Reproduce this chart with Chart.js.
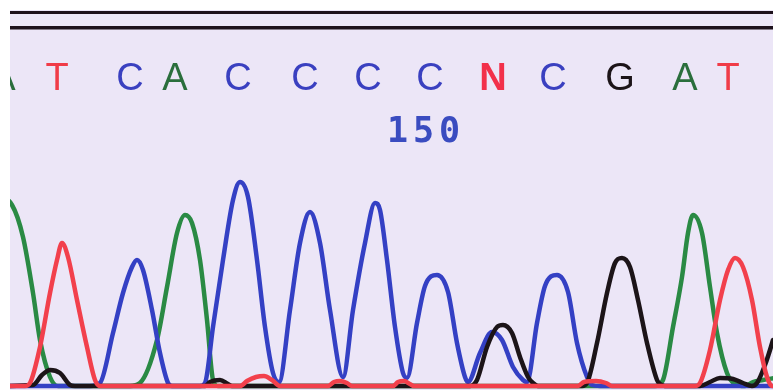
<!DOCTYPE html>
<html>
<head>
<meta charset="utf-8">
<script src="https://cdn.jsdelivr.net/npm/chart.js@4.4.1/dist/chart.umd.min.js"></script>
<style>
    html, body { margin: 0; padding: 0; background: #ffffff; }
    canvas { display: block; }
</style>
</head>
<body>
<canvas id="myChart" width="773" height="390"></canvas>
<script>
// base calls along the top
const bases = ['A', 'T', 'C', 'A', 'C', 'C', 'C', 'C', 'N', 'C', 'G', 'A', 'T'];
const basePos = [-3.5, 23.5, 60, 82.5, 114, 147.5, 179, 210, 241.5, 271.5, 305, 337.5, 359];
const baseColors = {A: '#2a6e3c', C: '#3a40c0', G: '#1c1418', T: '#f03c48', N: '#f2304a'};
const numberLabel = '150';
const numberPos = 208;

// traces: [scan point, signal]
const traceA = [[-7.5, 955], [1, 905], [6.5, 745], [11.5, 465], [15, 230], [20, 45], [24, 0],
    [60, 0], [65, 15], [73.5, 230], [78.5, 495], [83.5, 765], [87.5, 855], [91, 815], [95, 630], [98.5, 330], [101.5, 30], [104, 0],
    [322.5, 0], [326.5, 30], [331.5, 295], [336, 545], [339, 765], [341.5, 855], [346, 765], [350, 495], [353.5, 265], [358.5, 65], [362.5, 10], [367.5, 0],
    [371.5, 20], [376.5, 30], [382.5, 40]];
const traceC = [[-5, 0], [40, 0], [45, 15], [51.5, 265], [56.5, 465], [61, 595], [63.5, 630], [66.5, 580], [71, 380], [75, 165], [79, 15], [81, 0],
    [95, 0], [97.5, 15], [101.5, 295], [106.5, 630], [111.5, 930], [115, 1020], [119, 945], [123.5, 630], [127.5, 295], [131.5, 65], [134.5, 20],
    [140, 380], [145, 715], [150, 870], [155, 715], [160, 380], [166.5, 45],
    [171.5, 380], [177.5, 715], [182.5, 915], [185, 880], [188.5, 630], [192.5, 295], [196.5, 65], [198.5, 40],
    [203.5, 315], [207.5, 500], [213.5, 555], [219, 470], [223.5, 215], [227.5, 45], [229, 20],
    [235, 165], [241, 270], [246, 230], [251.5, 95], [256.5, 30], [258.5, 20],
    [263.5, 315], [267.5, 500], [273.5, 555], [279, 470], [283.5, 215], [288.5, 45], [291, 5], [295, 0], [382.5, 0]];
const traceG = [[-5, 0], [11.5, 5], [16, 55], [20, 80], [25, 65], [30, 5], [32.5, 0],
    [97.5, 0], [100, 20], [105, 30], [109, 10], [111, 0],
    [230, 0], [233.5, 30], [238.5, 195], [243.5, 295], [246.5, 305], [251, 265], [255, 145], [259, 45], [261.5, 15], [264, 0],
    [286, 0], [288.5, 15], [293.5, 215], [298.5, 465], [302.5, 615], [306, 640], [310, 595], [314, 430], [318.5, 215], [323.5, 30], [325, 10], [327.5, 0],
    [345, 0], [350, 20], [355, 40], [361.5, 35], [366.5, 15], [371, 0],
    [373.5, 15], [377.5, 105], [381.5, 230], [385.5, 380]];
const traceT = [[-5, 0], [7.5, 0], [10, 15], [15, 195], [20, 465], [23.5, 630], [26, 715], [29, 645], [33.5, 430], [38.5, 195], [42.5, 30], [45, 0],
    [115, 0], [118.5, 25], [123, 45], [127, 50], [131, 30], [135, 0],
    [159, 0], [162, 20], [165, 25], [168.5, 15], [171, 0],
    [191.5, 0], [194, 20], [197, 25], [200, 10], [202, 0],
    [284, 0], [287, 20], [293, 25], [298, 15], [301, 0],
    [342.5, 0], [345, 15], [350, 180], [355, 430], [359, 580], [362.5, 640], [366.5, 595], [371, 430], [375, 195], [378.5, 45], [381, 0], [385, 0]];

function pts(arr) {
    return arr.map(function (p) { return {x: p[0], y: p[1]}; });
}

const paper = {
    id: 'paper',
    beforeDraw: function (chart) {
        const c = chart.ctx;
        const a = chart.chartArea;
        c.save();
        c.fillStyle = '#ece6f7';
        c.fillRect(a.left, a.top, a.right - a.left, a.bottom - a.top);
        c.fillStyle = '#1d111c';
        c.fillRect(a.left, a.top + 1, a.right - a.left, 3);
        c.fillRect(a.left, a.top + 16, a.right - a.left, 3.5);
        c.restore();
    },
    afterDatasetsDraw: function (chart) {
        const c = chart.ctx;
        const a = chart.chartArea;
        const x = chart.scales.x;
        c.save();
        c.beginPath();
        c.rect(a.left, a.top, a.right - a.left, a.bottom - a.top);
        c.clip();
        c.textAlign = 'center';
        c.textBaseline = 'alphabetic';
        bases.forEach(function (b, i) {
            c.font = (b === 'N' ? 'bold ' : '') + '38px "Liberation Sans"';
            c.fillStyle = baseColors[b];
            c.fillText(b, x.getPixelForValue(basePos[i]), a.top + 80);
        });
        c.font = 'bold 35px "DejaVu Sans Mono"';
        c.fillStyle = '#3a4cc0';
        c.letterSpacing = '5px';
        c.fillText(numberLabel, x.getPixelForValue(numberPos), a.top + 132);
        c.restore();
    }
};

function trace(data, color) {
    return {
        data: pts(data),
        borderColor: color,
        borderWidth: 4.5,
        pointRadius: 0,
        cubicInterpolationMode: 'monotone',
        borderJoinStyle: 'round',
        borderCapStyle: 'round',
        fill: false
    };
}

const ctx = document.getElementById('myChart');
new Chart(ctx, {
    type: 'line',
    data: {
        datasets: [
            trace(traceT, '#f2404c'),
            trace(traceG, '#1c1418'),
            trace(traceC, '#3440c4'),
            trace(traceA, '#2a8a44')
        ]
    },
    options: {
        responsive: false,
        animation: false,
        layout: {
            padding: {left: 10, top: 10, right: 0, bottom: 0}
        },
        scales: {
            x: {type: 'linear', min: 0, max: 381.5, display: false},
            y: {min: -20, max: 1880, display: false}
        },
        plugins: {
            legend: {display: false},
            tooltip: {enabled: false}
        }
    },
    plugins: [paper]
});
</script>
</body>
</html>
